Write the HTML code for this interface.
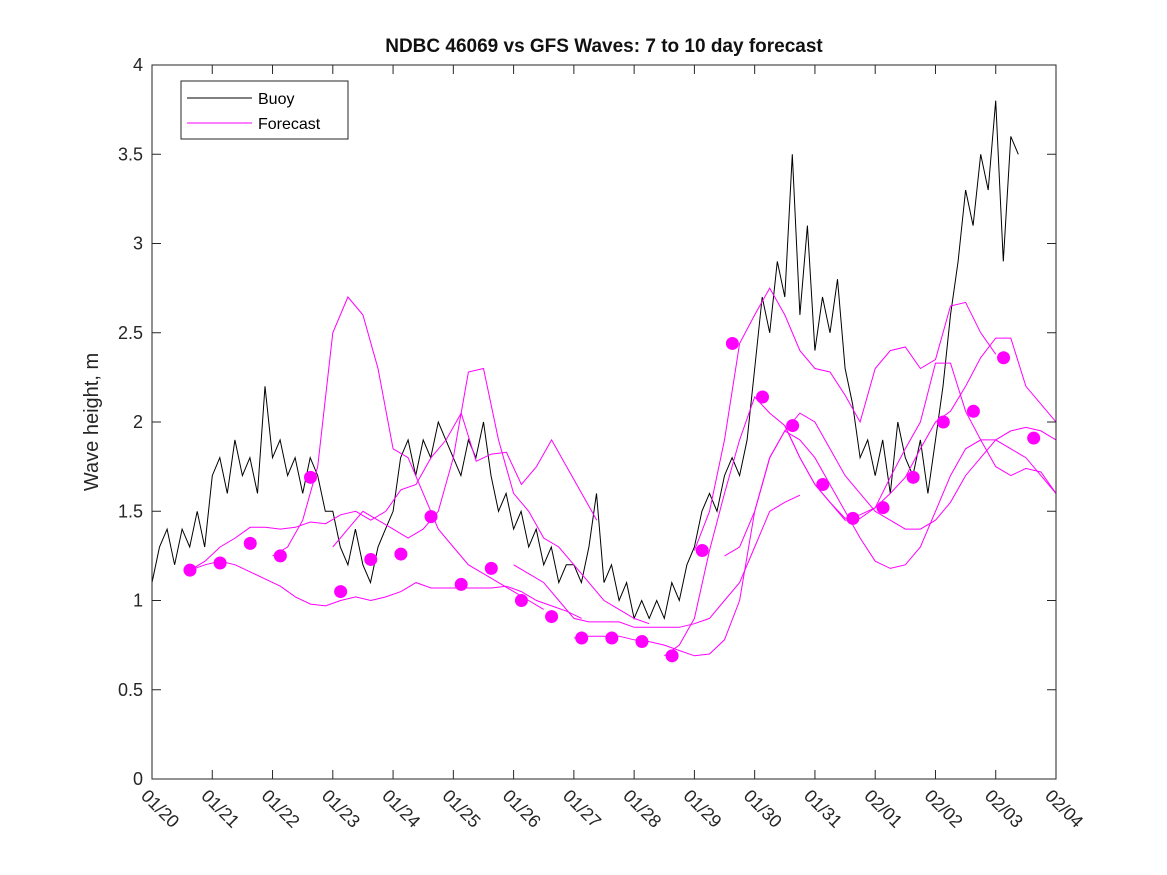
<!DOCTYPE html>
<html><head><meta charset="utf-8"><style>
body{margin:0;background:#fff;}
svg{display:block;font-family:"Liberation Sans","DejaVu Sans",sans-serif;}
</style></head><body>
<svg id="chart" width="1167" height="875" viewBox="0 0 1167 875" xmlns="http://www.w3.org/2000/svg">
<rect width="1167" height="875" fill="#fff"/>
<text x="604" y="52" text-anchor="middle" font-size="19" font-weight="bold" fill="#111">NDBC 46069 vs GFS Waves: 7 to 10 day forecast</text>
<text transform="translate(98,422) rotate(-90)" text-anchor="middle" font-size="20" fill="#262626">Wave height, m</text>
<g id="plot"></g>
<rect x="152" y="65" width="904" height="714" fill="none" stroke="#262626" stroke-width="1"/>
<g>
<rect x="181" y="81" width="167" height="58" fill="#fff" stroke="#262626"/>
<g><line x1="187" y1="98" x2="252" y2="98" stroke="#000"/><text x="258" y="104" font-size="16" fill="#000">Buoy</text></g>
<g><line x1="187" y1="123" x2="252" y2="123" stroke="#f0f"/><text x="258" y="129" font-size="16" fill="#000">Forecast</text></g>
</g>
</svg>
<script>
const xTickLabels=["01/20","01/21","01/22","01/23","01/24","01/25","01/26","01/27","01/28","01/29","01/30","01/31","02/01","02/02","02/03","02/04"];
const yTicks=[0,0.5,1,1.5,2,2.5,3,3.5,4];
const buoyStart=0, buoyStep=0.125;
const buoyValues=[1.1,1.3,1.4,1.2,1.4,1.3,1.5,1.3,
1.7,1.8,1.6,1.9,1.7,1.8,1.6,2.2,
1.8,1.9,1.7,1.8,1.6,1.8,1.7,1.5,
1.5,1.3,1.2,1.4,1.2,1.1,1.3,1.4,
1.5,1.8,1.9,1.7,1.9,1.8,2.0,1.9,
1.8,1.7,1.9,1.8,2.0,1.7,1.5,1.6,
1.4,1.5,1.3,1.4,1.2,1.3,1.1,1.2,
1.2,1.1,1.3,1.6,1.1,1.2,1.0,1.1,
0.9,1.0,0.9,1.0,0.9,1.1,1.0,1.2,
1.3,1.5,1.6,1.5,1.7,1.8,1.7,1.9,
2.3,2.7,2.5,2.9,2.7,3.5,2.6,3.1,
2.4,2.7,2.5,2.8,2.3,2.1,1.8,1.9,
1.7,1.9,1.6,2.0,1.8,1.7,1.9,1.6,
1.9,2.2,2.6,2.9,3.3,3.1,3.5,3.3,
3.8,2.9,3.6,3.5];
const fcStep=0.25;
const fcStarts=[0.63,0.63,2.0,3.0,6.0,7.0,9.0,8.5,9.5,10.5];
const fc1=[1.17,1.2,1.22,1.2,1.16,1.12,1.08,1.02,0.98,0.97,1.0,1.02,1.0,1.02,1.05,1.1,1.07,1.07,1.07,1.07,1.07,1.08,1.05,1.0,0.97,0.94,0.9];
const fc2=[1.17,1.22,1.3,1.35,1.41,1.41,1.4,1.41,1.44,1.43,1.48,1.5,1.45,1.5,1.62,1.65,1.8,1.9,2.05,1.78,1.82,1.83,1.65,1.75,1.9,1.75,1.6,1.45];
const fc3=[1.25,1.3,1.45,1.75,2.5,2.7,2.6,2.3,1.85,1.8,1.6,1.4,1.3,1.2,1.15,1.1,1.05,1.0,0.95];
const fc4=[1.3,1.4,1.5,1.45,1.4,1.35,1.4,1.5,1.8,2.28,2.3,1.9,1.6,1.5,1.35,1.3,1.2,1.1,1.0,0.95,0.9,0.87];
const fc5=[1.2,1.15,1.1,1.0,0.9,0.88,0.88,0.88,0.85,0.85,0.85,0.85,0.87,0.9,1.0,1.1,1.3,1.5,1.55,1.59];
const fc6=[0.79,0.8,0.8,0.8,0.78,0.77,0.75,0.72,0.69,0.7,0.78,1.0,1.5,1.8,1.95,2.05,2.0,1.85,1.7,1.6,1.5,1.45,1.4,1.4,1.45,1.55,1.7,1.8,1.9,1.95,1.97,1.95,1.9,1.85,1.8,1.75,1.7,1.6,1.5,1.4,1.35];
const fc7=[1.28,1.5,1.9,2.44,2.6,2.75,2.6,2.4,2.3,2.28,2.15,2.0,2.3,2.4,2.42,2.3,2.35,2.65,2.67,2.5,2.38];
const fc8=[0.69,0.75,0.9,1.28,1.6,1.9,2.14,2.05,1.98,1.8,1.65,1.55,1.46,1.48,1.52,1.6,1.69,1.85,2.0,2.06,2.2,2.36,2.47,2.47,2.2,2.1,2.0,2.15];
const fc9=[1.25,1.3,1.5,1.8,1.95,1.9,1.8,1.65,1.5,1.35,1.22,1.18,1.2,1.3,1.5,1.7,1.85,1.9,1.9,1.85,1.8,1.7,1.6,1.5,1.43];
const fc10=[1.98,1.8,1.65,1.55,1.45,1.46,1.52,1.69,1.85,2.0,2.33,2.33,2.06,1.9,1.75,1.7,1.74,1.72,1.6,1.45];
const forecasts=[fc1,fc2,fc3,fc4,fc5,fc6,fc7,fc8,fc9,fc10];
const markerDays=[0.63,1.13,1.63,2.13,2.63,3.13,3.63,4.13,4.63,5.13,5.63,6.13,6.63,7.13,7.63,8.13,8.63,9.13,9.63,10.13,10.63,11.13,11.63,12.13,12.63,13.13,13.63,14.13,14.63];
const markerValues=[1.17,1.21,1.32,1.25,1.69,1.05,1.23,1.26,1.47,1.09,1.18,1.0,0.91,0.79,0.79,0.77,0.69,1.28,2.44,2.14,1.98,1.65,1.46,1.52,1.69,2.0,2.06,2.36,1.91];

const X0=152,X1=1056,Y0=779,Y1=65;
const xs=d=>X0+(X1-X0)*d/15;
const ys=v=>Y0-(Y0-Y1)*v/4;
const NS="http://www.w3.org/2000/svg";
const svg=document.getElementById('chart');
const plot=document.getElementById('plot');
function mk(tag,attrs,parent){const e=document.createElementNS(NS,tag);for(const k in attrs)e.setAttribute(k,attrs[k]);(parent||plot).appendChild(e);return e;}
const clip=mk('clipPath',{id:'clp'},svg);
mk('rect',{x:X0,y:Y1,width:X1-X0,height:Y0-Y1},clip);
const inner=mk('g',{'clip-path':'url(#clp)'});


xTickLabels.forEach((lab,i)=>{
  const x=xs(i);
  const t1=mk('line',{x1:x,y1:Y0,x2:x,y2:Y0-9,stroke:'#262626'});
  
  
  const t2=mk('line',{x1:x,y1:Y1,x2:x,y2:Y1+9,stroke:'#262626'});
  
  
  const tx=mk('text',{x:x-12,y:Y0+18,'font-size':'18',fill:'#262626',transform:`rotate(45 ${x-12} ${Y0+18})`});
  tx.textContent=lab;
  
  
});
yTicks.forEach(v=>{
  const y=ys(v);
  const a=mk('line',{x1:X0,y1:y,x2:X0+9,y2:y,stroke:'#262626'});
  
  
  const b=mk('line',{x1:X1,y1:y,x2:X1-9,y2:y,stroke:'#262626'});
  
  
  const tx=mk('text',{x:X0-9,y:y+6,'text-anchor':'end','font-size':'18',fill:'#262626'});
  tx.textContent=String(v);
  
  
});
let d='';
buoyValues.forEach((v,i)=>{const x=xs(buoyStart+i*buoyStep),y=ys(v);d+=(i?'L':'M')+x.toFixed(1)+','+y.toFixed(1);});
const bl=mk('path',{d:d,fill:'none',stroke:'#000','stroke-width':'1'},inner);


forecasts.forEach((arr,k)=>{
  let p='';
  arr.forEach((v,i)=>{p+=(i?'L':'M')+xs(fcStarts[k]+i*fcStep).toFixed(1)+','+ys(v).toFixed(1);});
  const l=mk('path',{d:p,fill:'none',stroke:'#f0f','stroke-width':'1'},inner);
  
  
});
markerDays.forEach((t,i)=>{
  const c=mk('circle',{cx:xs(t),cy:ys(markerValues[i]),r:6.5,fill:'#f0f'},inner);
  
  
});
</script>
</body></html>
